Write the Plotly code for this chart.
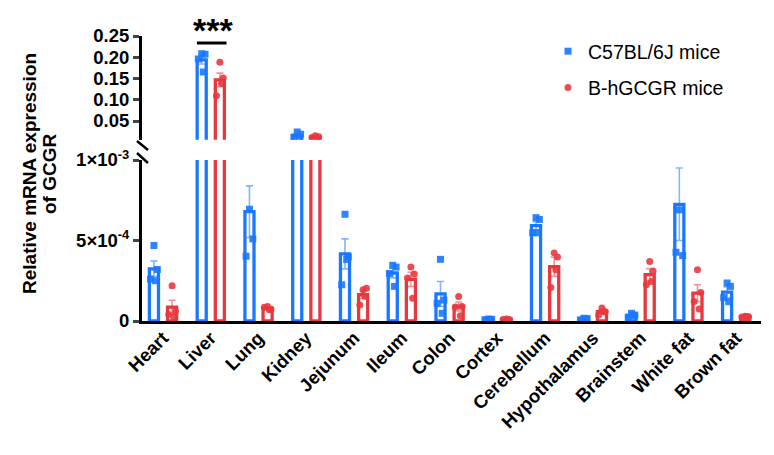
import plotly.graph_objects as go

# ---------------- data ----------------
tissues = ["Heart", "Liver", "Lung", "Kidney", "Jejunum", "Ileum", "Colon", "Cortex",
           "Cerebellum", "Hypothalamus", "Brainstem", "White fat", "Brown fat"]

c57_mean = [3.24e-4, 0.194, 6.79e-4, 0.016, 4.17e-4, 2.98e-4, 1.68e-4, 0.10e-4,
            5.92e-4, 0.13e-4, 0.35e-4, 7.25e-4, 1.79e-4]
c57_sem = [0.48e-4, 0.010, 1.60e-4, 0.003, 0.93e-4, 0.30e-4, 0.77e-4, 0.02e-4,
           0.25e-4, 0.04e-4, 0.06e-4, 2.25e-4, 0.33e-4]
c57_points = [
    [4.69e-4, 3.20e-4, 2.60e-4, 2.50e-4],
    [0.208, 0.207, 0.196, 0.165],
    [6.94e-4, 5.10e-4, 4.02e-4, 11.1e-4],
    [0.024, 0.019, 0.012, 0.009],
    [6.63e-4, 3.98e-4, 2.25e-4, 3.82e-4],
    [3.46e-4, 3.35e-4, 2.95e-4, 2.15e-4],
    [3.83e-4, 1.30e-4, 1.10e-4, 0.48e-4],
    [0.12e-4, 0.10e-4, 0.08e-4, 0.10e-4],
    [6.42e-4, 6.31e-4, 5.48e-4, 5.48e-4],
    [0.17e-4, 0.15e-4, 0.07e-4, 0.12e-4],
    [0.48e-4, 0.37e-4, 0.23e-4, 0.33e-4],
    [6.90e-4, 4.06e-4, 4.27e-4, 13.77e-4],
    [2.36e-4, 2.15e-4, 1.45e-4, 1.20e-4],
]

hg_mean = [0.86e-4, 0.1466, 0.79e-4, 0.012, 1.63e-4, 2.59e-4, 0.90e-4, 0.10e-4,
           3.37e-4, 0.58e-4, 2.875e-4, 1.73e-4, 0.27e-4]
hg_sem = [0.43e-4, 0.016, 0.05e-4, 0.0015, 0.23e-4, 0.44e-4, 0.28e-4, 0.02e-4,
          0.60e-4, 0.10e-4, 0.38e-4, 0.52e-4, 0.02e-4]
hg_points = [
    [2.19e-4, 0.60e-4, 0.40e-4, 0.25e-4],
    [0.188, 0.151, 0.1095, 0.138],
    [0.90e-4, 0.73e-4, 0.85e-4, 0.70e-4],
    [0.015, 0.013, 0.011, 0.009],
    [1.94e-4, 2.04e-4, 1.00e-4, 1.54e-4],
    [3.35e-4, 2.92e-4, 2.67e-4, 1.42e-4],
    [1.52e-4, 0.90e-4, 0.87e-4, 0.33e-4],
    [0.12e-4, 0.08e-4, 0.10e-4, 0.10e-4],
    [4.23e-4, 3.98e-4, 2.08e-4, 3.19e-4],
    [0.80e-4, 0.58e-4, 0.37e-4, 0.57e-4],
    [3.70e-4, 3.10e-4, 2.25e-4, 2.45e-4],
    [3.19e-4, 1.77e-4, 1.21e-4, 0.75e-4],
    [0.30e-4, 0.27e-4, 0.25e-4, 0.28e-4],
]

series_names = ["C57BL/6J mice", "B-hGCGR mice"]
top_ticks = [0.05, 0.10, 0.15, 0.20, 0.25]
bottom_ticks = [0, 5e-4, 1e-3]
bottom_ticktext = ["0", "5×10<sup>-4</sup>", "1×10<sup>-3</sup>"]
title_lines = ["Relative mRNA expression", "of GCGR"]

# ---------------- style / layout ----------------
BLUE = "#1a78ff"
RED = "#e8383d"
BLUE_ERR = "rgba(26,120,255,0.55)"
RED_ERR = "rgba(232,56,61,0.55)"
FONT = "Liberation Sans, Arial, Helvetica, sans-serif"
# page body has an 8px default margin: figure is drawn at (8, 8)
OX, OY = 8, 8
W, H = 774 - 2 * OX, 455 - 2 * OY
# plot area in screen pixels
SX0, SX1, SY0, SY1 = 142, 761, 36, 321
L, R, T, B = SX0 - OX, W - (SX1 - OX), SY0 - OY, H - (SY1 - OY)
PW, PH = W - L - R, H - T - B
OFFSET = 0.19
BAR_W = 0.19
JITTER = [0.0, 0.07, -0.07, 0.035]
TOP_MIN = 0.006
BOT_MAX = 1e-3


def px_x(sx):
    return (sx - SX0) / PW


def px_y(sy):
    return (SY1 - sy) / PH


bottom_dom = [0, px_y(160)]
top_bottom_px = SY0 + (0.25 - TOP_MIN) / 0.05 * 21.25
top_dom = [px_y(top_bottom_px), 1]

idx = list(range(len(tissues)))
fig = go.Figure()

series = [
    (series_names[0], c57_mean, c57_sem, c57_points, -OFFSET, BLUE, BLUE_ERR, "square"),
    (series_names[1], hg_mean, hg_sem, hg_points, OFFSET, RED, RED_ERR, "circle"),
]

# bars: bottom panel shows all tissues; top panel only those reaching it
for name, mean, sem, pts, off, col, ecol, sym in series:
    for ya in ["y", "y2"]:
        keep = [i for i in idx if ya == "y" or mean[i] > TOP_MIN]
        fig.add_trace(go.Bar(
            x=[i + off for i in keep], y=[mean[i] for i in keep], width=BAR_W,
            yaxis=ya, showlegend=False,
            marker=dict(color="white", line=dict(color=col, width=3.3)),
            error_y=dict(type="data", array=[sem[i] for i in keep], symmetric=True,
                         color=ecol, thickness=1.6, width=3.5),
            hoverinfo="skip",
        ))

# individual points
for name, mean, sem, pts, off, col, ecol, sym in series:
    for ya in ["y", "y2"]:
        xs, ys = [], []
        for i, vals in zip(idx, pts):
            for j, v in enumerate(vals):
                if (ya == "y" and v <= BOT_MAX) or (ya == "y2" and v > TOP_MIN):
                    xs.append(i + off + JITTER[j % len(JITTER)])
                    ys.append(v)
        fig.add_trace(go.Scatter(
            x=xs, y=ys, yaxis=ya, mode="markers", name=name,
            legendgroup=name, showlegend=(ya == "y"),
            marker=dict(symbol=sym, size=7, color=col, opacity=0.9),
            cliponaxis=True,
        ))

fig.update_layout(
    width=W, height=H,
    margin=dict(l=L, r=R, t=T, b=B, autoexpand=False),
    plot_bgcolor="white", paper_bgcolor="white",
    barmode="overlay",
    font=dict(family=FONT, color="black"),
    xaxis=dict(
        range=[-0.44, 12.52], tickmode="array", tickvals=idx, ticktext=tissues,
        tickangle=-45, tickfont=dict(size=18.5, family=FONT, weight="bold"),
        ticklabelstandoff=-4,
        showline=True, linecolor="black", linewidth=3, ticks="",
        showgrid=False, zeroline=False, anchor="y", automargin=False,
    ),
    yaxis=dict(
        domain=bottom_dom, range=[0, BOT_MAX], tickmode="array",
        tickvals=bottom_ticks, ticktext=bottom_ticktext,
        tickfont=dict(size=18.5, family=FONT, weight="bold"),
        showline=True, linecolor="black", linewidth=3, ticks="outside",
        ticklen=6, tickwidth=2.5, showgrid=False, zeroline=False, anchor="x",
        automargin=False,
    ),
    yaxis2=dict(
        domain=top_dom, range=[TOP_MIN, 0.25], tickmode="array",
        tickvals=top_ticks, ticktext=[f"{v:.2f}" for v in top_ticks],
        tickfont=dict(size=18.5, family=FONT, weight="bold"),
        showline=True, linecolor="black", linewidth=3, ticks="outside",
        ticklen=6, tickwidth=2.5, showgrid=False, zeroline=False, anchor="x",
        automargin=False,
    ),
    legend=dict(
        x=px_x(548), y=px_y(32),
        xanchor="left", yanchor="top", font=dict(size=19.5, family=FONT),
        traceorder="grouped", tracegroupgap=8, bgcolor="rgba(0,0,0,0)",
    ),
    showlegend=True,
)

# y-axis title (two lines)
for line, sx in zip(title_lines, [29, 49]):
    fig.add_annotation(
        text=f"<b>{line}</b>", textangle=-90,
        xref="paper", yref="paper", x=px_x(sx), y=px_y(174),
        showarrow=False, font=dict(size=19, family=FONT), xanchor="center", yanchor="middle",
    )

# significance
fig.add_annotation(
    text="<b>***</b>", xref="x", yref="paper", x=1.05, y=px_y(30),
    showarrow=False, font=dict(size=34, family=FONT), xanchor="center", yanchor="middle",
)
fig.add_shape(type="line", xref="x", yref="paper", x0=1 - 0.29, x1=1 + 0.33,
              y0=px_y(43), y1=px_y(43), line=dict(color="black", width=3))

# axis break marks
for (x0, y0, x1, y1) in [(137, 141, 148, 150), (137, 153, 148, 163)]:
    fig.add_shape(type="line", xref="paper", yref="paper",
                  x0=px_x(x0), y0=px_y(y0), x1=px_x(x1), y1=px_y(y1),
                  line=dict(color="black", width=2.5))

fig.write_html("out.html")
